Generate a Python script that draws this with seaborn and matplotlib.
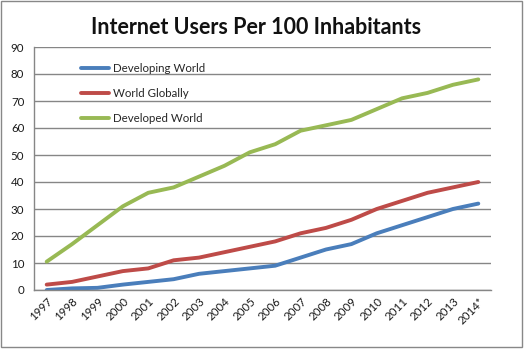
import matplotlib
matplotlib.use("Agg")
import matplotlib.pyplot as plt
import seaborn as sns
import pandas as pd
from matplotlib.patches import Rectangle

years = ["1997", "1998", "1999", "2000", "2001", "2002", "2003", "2004", "2005",
         "2006", "2007", "2008", "2009", "2010", "2011", "2012", "2013", "2014*"]
developing = [0, 0.6, 0.8, 2, 3, 4, 6, 7, 8, 9, 12, 15, 17, 21, 24, 27, 30, 32]
world = [2, 3, 5, 7, 8, 11, 12, 14, 16, 18, 21, 23, 26, 30, 33, 36, 38, 40]
developed = [10.5, 17, 24, 31, 36, 38, 42, 46, 51, 54, 59, 61, 63, 67, 71, 73, 76, 78]
series_names = ["Developing World", "World Globally", "Developed World"]
colors = ["#4A7EBB", "#BE4B48", "#98B954"]

rows = []
for name, vals in zip(series_names, [developing, world, developed]):
    for i, (yr, v) in enumerate(zip(years, vals)):
        rows.append({"idx": i, "year": yr, "value": v, "series": name})
df = pd.DataFrame(rows)

sns.set_style("white")
plt.rcParams["font.family"] = ["Lato", "DejaVu Sans"]

fig = plt.figure(figsize=(5.32, 3.56), dpi=100)
fig.patch.set_facecolor("white")
fig.patches.append(Rectangle((1 / 532, 9 / 356), 521 / 532, 346 / 356,
                             transform=fig.transFigure, fill=False,
                             edgecolor="#888888", linewidth=1))
ax = fig.add_axes([34 / 532, 66 / 356, 457 / 532, 243 / 356])

sns.lineplot(data=df, x="idx", y="value", hue="series", palette=colors,
             hue_order=series_names, linewidth=2.8, ax=ax, legend=True)

ax.set_xlim(-0.5, len(years) - 0.5)
ax.set_ylim(0, 90)
ax.set_yticks(range(0, 91, 10))
ax.set_yticklabels([str(v) for v in range(0, 91, 10)], fontsize=8.3, color="#1a1a1a")
ax.yaxis.grid(True, color="#868686", linewidth=1)
ax.set_axisbelow(True)
for s in ["top", "right"]:
    ax.spines[s].set_visible(False)
ax.spines["left"].set_color("#868686")
ax.spines["bottom"].set_color("#868686")
ax.spines["left"].set_linewidth(1)
ax.spines["bottom"].set_linewidth(1)

ax.set_xticks([i - 0.5 for i in range(len(years) + 1)])
ax.set_xticklabels([])
ax.set_xticks(range(len(years)), minor=True)
ax.set_xticklabels(years, minor=True, rotation=45, ha="right", rotation_mode="anchor",
                   fontsize=8.3, color="#1a1a1a")
ax.tick_params(axis="x", which="major", length=5, color="#868686", direction="out")
ax.tick_params(axis="x", which="minor", length=0, pad=4)
ax.tick_params(axis="y", length=5, color="#868686", direction="out", pad=2)
ax.set_xlabel("")
ax.set_ylabel("")

leg = ax.legend(loc="upper left", bbox_to_anchor=(0.08, 0.975), frameon=False,
                fontsize=8.3, handlelength=2.4, handletextpad=0.35, labelspacing=1.2)
for line in leg.get_lines():
    line.set_linewidth(2.8)

fig.text(256 / 532, 1 - 27 / 356, "Internet Users Per 100 Inhabitants",
         ha="center", va="center", fontsize=15.5, fontweight="bold", color="#111111")

fig.savefig("out.png", dpi=100)
